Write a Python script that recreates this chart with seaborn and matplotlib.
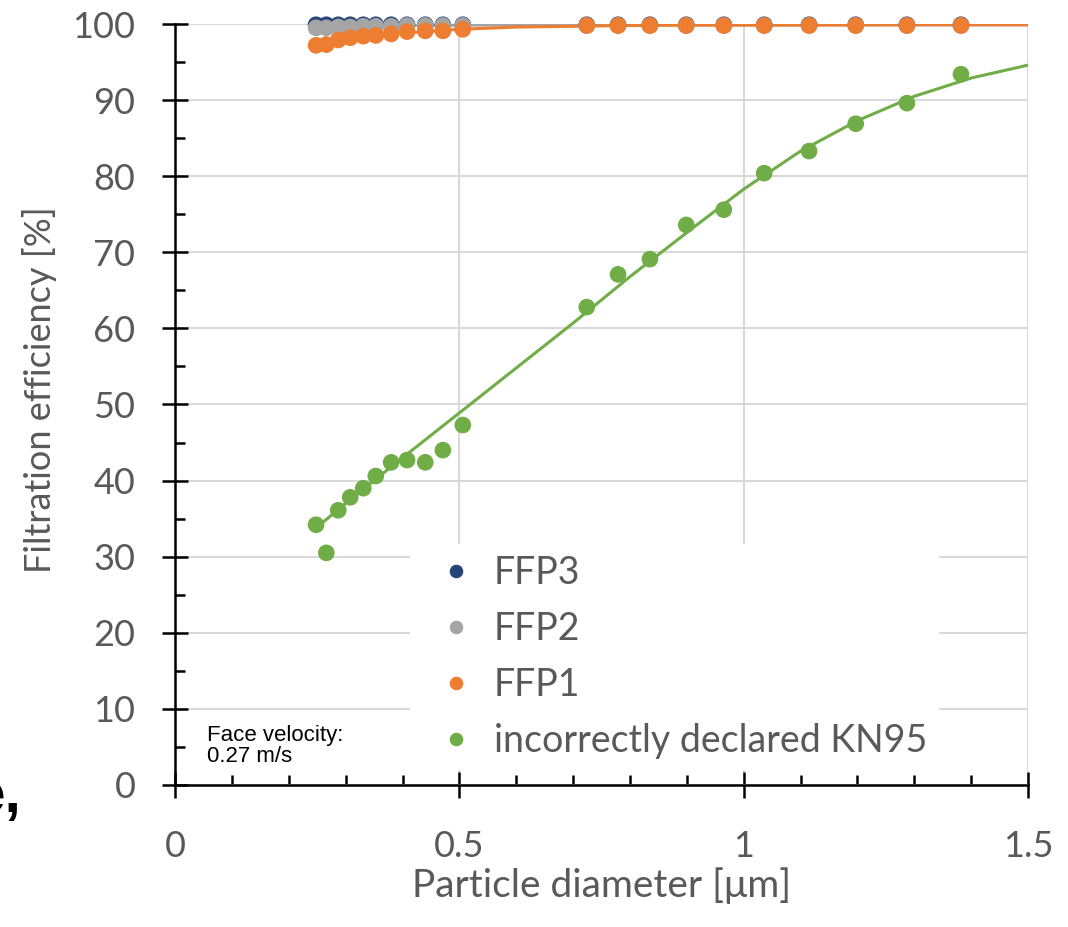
import numpy as np
import pandas as pd
import matplotlib
matplotlib.use("Agg")
import matplotlib.pyplot as plt
import seaborn as sns
from matplotlib.ticker import MultipleLocator

# ---------------- data ----------------
diameter = [0.248, 0.266, 0.287, 0.308, 0.331, 0.353, 0.380, 0.408, 0.440, 0.471, 0.506,
            0.724, 0.779, 0.835, 0.899, 0.965, 1.036, 1.115, 1.197, 1.287, 1.382]
ffp3 = [99.9] * 21
ffp2 = [99.5, 99.5, 99.6, 99.6, 99.7, 99.7, 99.7, 99.8, 99.8, 99.8, 99.8,
        99.8, 99.8, 99.8, 99.8, 99.8, 99.8, 99.8, 99.8, 99.8, 99.8]
ffp1 = [97.2, 97.3, 97.9, 98.2, 98.4, 98.5, 98.7, 99.0, 99.1, 99.1, 99.3,
        99.8, 99.8, 99.8, 99.8, 99.8, 99.8, 99.8, 99.8, 99.8, 99.8]
kn95 = [34.2, 30.5, 36.1, 37.8, 39.0, 40.6, 42.4, 42.7, 42.4, 44.0, 47.3,
        62.8, 67.1, 69.1, 73.6, 75.6, 80.4, 83.3, 86.9, 89.6, 93.4]

# trend lines
trend_x = [0.25, 0.3, 0.4, 0.5, 0.6, 0.7, 0.8, 0.9, 1.0, 1.1, 1.2, 1.3, 1.4, 1.5]
trend_ffp3 = [99.95] * 14
trend_ffp2 = [99.75, 99.78, 99.82, 99.85, 99.87, 99.88, 99.9, 99.9, 99.9, 99.9, 99.9, 99.9, 99.9, 99.9]
trend_ffp1 = [97.6, 98.1, 98.8, 99.3, 99.6, 99.7, 99.8, 99.85, 99.85, 99.85, 99.88, 99.9, 99.9, 99.9]
trend_kn95 = [33.9, 37.0, 43.0, 48.9, 54.8, 60.7, 66.8, 72.6, 78.3, 83.3, 87.3, 90.5, 92.9, 94.6]

series_names = ["FFP3", "FFP2", "FFP1", "incorrectly declared KN95"]
colors = ["#264478", "#a5a5a5", "#ed7d31", "#70ad47"]

x_ticks = [0, 0.5, 1, 1.5]
x_tick_labels = ["0", "0.5", "1", "1.5"]
y_ticks = [0, 10, 20, 30, 40, 50, 60, 70, 80, 90, 100]

points = pd.DataFrame({
    "d": diameter * 4,
    "eff": ffp3 + ffp2 + ffp1 + kn95,
    "series": sum([[n] * len(diameter) for n in series_names], []),
})
trends = pd.DataFrame({
    "d": trend_x * 4,
    "eff": trend_ffp3 + trend_ffp2 + trend_ffp1 + trend_kn95,
    "series": sum([[n] * len(trend_x) for n in series_names], []),
})

# ---------------- style ----------------
sns.set_style("white")
plt.rcParams["font.family"] = ["Lato", "DejaVu Sans"]

fig = plt.figure(figsize=(10.68, 9.27), dpi=100)
ax = fig.add_axes([0.1639, 0.1532, 0.7987, 0.8209])

palette = dict(zip(series_names, colors))

sns.lineplot(data=trends, x="d", y="eff", hue="series", hue_order=series_names,
             palette=palette, linewidth=2.2, legend=False, ax=ax, zorder=2,
             estimator=None, sort=False)
sns.scatterplot(data=points, x="d", y="eff", hue="series", hue_order=series_names,
                palette=palette, s=125, linewidth=0.8, edgecolor=None, ax=ax,
                zorder=3, clip_on=False, legend=True)

ax.set_xlim(0, 1.5)
ax.set_ylim(0, 100)
ax.set_xticks(x_ticks)
ax.set_xticklabels(x_tick_labels)
ax.set_yticks(y_ticks)
ax.xaxis.set_minor_locator(MultipleLocator(0.1))
ax.yaxis.set_minor_locator(MultipleLocator(5))

ax.grid(True, which="major", color="#d9d9d9", linewidth=1.5, zorder=0)
ax.set_axisbelow(True)

for s in ["top", "right"]:
    ax.spines[s].set_visible(False)
for s in ["left", "bottom"]:
    ax.spines[s].set_color("black")
    ax.spines[s].set_linewidth(1.8)
    ax.spines[s].set_zorder(4)

tick_color = "#595959"
ax.tick_params(axis="both", which="both", bottom=True, left=True)
ax.tick_params(axis="both", which="major", direction="inout", length=19,
               width=1.8, color="black", labelsize=26, labelcolor=tick_color)
ax.tick_params(axis="y", which="major", pad=19)
ax.tick_params(axis="x", which="major", pad=23)
ax.tick_params(axis="both", which="minor", direction="in", length=7,
               width=1.8, color="black")

ax.set_xlabel("Particle diameter [\u03bcm]", fontsize=28, color=tick_color, labelpad=3)
ax.set_ylabel("Filtration efficiency [%]", fontsize=26, color=tick_color, labelpad=11)
ax.yaxis.label.set_y(0.519)

handles, labels = ax.get_legend_handles_labels()
old = ax.get_legend()
if old is not None:
    old.remove()
leg = ax.legend(handles, labels, loc="upper left", bbox_to_anchor=(0.275, 0.317),
                fontsize=27, frameon=True, framealpha=1, facecolor="white",
                edgecolor="none", handletextpad=0.05, handlelength=1.9,
                labelspacing=0.53, markerscale=0.8, borderpad=0.3,
                borderaxespad=0, fancybox=False)
leg.set_zorder(5)
for t in leg.get_texts():
    t.set_color(tick_color)

ax.text(0.0375, 0.079, "Face velocity:\n0.27 m/s", transform=ax.transAxes,
        fontsize=16, family=["Liberation Sans", "DejaVu Sans"], color="black",
        va="top", ha="left", linespacing=1.0, zorder=6)

fig.text(22 / 1068, 1 - 812 / 927, "e,", fontsize=42, ha="right", va="baseline",
         weight="bold", family=["Liberation Sans", "DejaVu Sans"], color="black")

fig.savefig("out.png", dpi=100)
